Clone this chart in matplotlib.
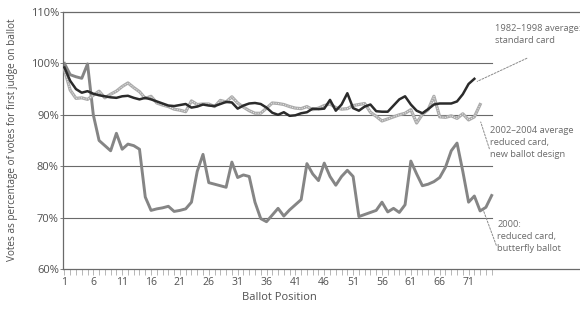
import matplotlib
matplotlib.use("Agg")
import matplotlib.pyplot as plt
import numpy as np

plt.rcParams['font.family'] = ['Open Sans', 'DejaVu Sans']

# Data (percent of votes for first judge on ballot), by ballot position
standard_1982_1998 = [99.2, 96.6, 95.0, 94.3, 94.6, 94.1, 93.8, 93.6, 93.4, 93.3,
                      93.6, 93.7, 93.3, 93.0, 93.3, 93.0, 92.6, 92.2, 91.8, 91.7,
                      91.9, 92.1, 91.4, 91.6, 92.0, 91.8, 91.7, 92.1, 92.5, 92.4,
                      91.2, 91.8, 92.2, 92.3, 92.1, 91.4, 90.4, 90.0, 90.5, 89.8,
                      89.9, 90.3, 90.5, 91.2, 91.1, 91.2, 92.9, 90.8, 92.0, 94.2,
                      91.3, 90.8, 91.6, 92.0, 90.7, 90.6, 90.6, 91.8, 93.0, 93.6,
                      92.0, 90.8, 90.3, 91.1, 92.0, 92.2, 92.2, 92.2, 92.6, 94.0,
                      96.0, 97.0]
newdesign_2002_2004 = [98.8, 94.8, 93.2, 93.3, 93.0, 93.8, 94.6, 93.3, 94.0, 94.6,
                       95.5, 96.2, 95.3, 94.5, 93.2, 93.6, 92.3, 91.9, 91.6, 91.1,
                       90.9, 90.6, 92.7, 92.0, 92.1, 92.1, 91.6, 92.8, 92.5, 93.5,
                       92.3, 91.5, 90.8, 90.3, 90.3, 91.3, 92.3, 92.2, 92.0, 91.6,
                       91.3, 91.2, 91.6, 91.0, 91.3, 91.8, 92.1, 91.4, 91.1, 91.2,
                       91.8, 92.0, 92.2, 90.5, 89.7, 88.8, 89.2, 89.6, 90.0, 90.3,
                       91.0, 88.4, 90.1, 91.0, 93.6, 89.6, 89.5, 89.8, 89.3, 90.2,
                       89.0, 89.6, 92.0]
butterfly_2000 = [100.0, 97.8, 97.4, 97.1, 99.9, 90.0, 85.0, 84.0, 83.0, 86.4,
                  83.3, 84.3, 84.0, 83.3, 74.0, 71.4, 71.7, 71.9, 72.2, 71.2,
                  71.4, 71.7, 73.0, 79.0, 82.3, 76.8, 76.5, 76.2, 75.9, 80.8,
                  77.8, 78.3, 78.0, 73.0, 69.8, 69.2, 70.5, 71.8, 70.3, 71.5,
                  72.5, 73.5, 80.5, 78.5, 77.2, 80.6, 78.0, 76.3, 78.0, 79.2,
                  78.0, 70.2, 70.6, 71.0, 71.4, 73.0, 71.1, 71.8, 71.0, 72.5,
                  81.0, 78.5, 76.2, 76.5, 77.0, 77.8, 79.8, 83.0, 84.5, 79.0,
                  73.0, 74.2, 71.3, 72.0, 74.3]

y_ticks = [60, 70, 80, 90, 100, 110]
y_tick_labels = ["60%", "70%", "80%", "90%", "100%", "110%"]
x_tick_labels = [1, 6, 11, 16, 21, 26, 31, 36, 41, 46, 51, 56, 61, 66, 71]

fig = plt.figure(figsize=(5.8, 3.09), dpi=100)
ax = fig.add_axes([63/580, 1 - 269/309, 1 - 63/580, (269 - 12)/309])

text_col = '#505050'
grid_col = '#6a6a6a'

ax.set_xlim(0.75, 90.3)
ax.set_ylim(60, 110)

# gridlines (only up to the end of the data area)
for v in [70, 80, 90, 100]:
    ax.axhline(v, xmin=0, xmax=(492 - 63) / (580 - 63), color=grid_col, lw=0.8, zorder=1)

x_b = np.arange(1, len(butterfly_2000) + 1)
x_n = np.arange(1, len(newdesign_2002_2004) + 1)
x_s = np.arange(1, len(standard_1982_1998) + 1)

ax.plot(x_b, butterfly_2000, color='#858585', lw=2.1, zorder=2, solid_joinstyle='round')
ax.plot(x_n, newdesign_2002_2004, color='#ababab', lw=2.3, zorder=3, solid_joinstyle='round')
ax.plot(x_n, newdesign_2002_2004, color='#eeeeee', lw=0.7, ls=(0, (1, 1.5)), zorder=3.1)
ax.plot(x_s, standard_1982_1998, color='#2b2b2b', lw=1.8, zorder=4, solid_joinstyle='round')

# axes styling
ax.spines['right'].set_visible(False)
for s in ['left', 'bottom', 'top']:
    ax.spines[s].set_color(grid_col)
    ax.spines[s].set_linewidth(0.9)

ax.set_yticks(y_ticks)
ax.set_yticklabels(y_tick_labels)
ax.tick_params(axis='y', length=2, width=0.6, colors=grid_col, labelcolor=text_col,
               labelsize=8, pad=1)

ax.set_xticks(x_tick_labels)
ax.set_xticklabels([str(v) for v in x_tick_labels])
ax.set_xticks(np.arange(1, 76), minor=True)
ax.tick_params(axis='x', which='both', direction='out', length=4, width=0.5,
               colors='#9a9a9a', labelcolor=text_col, labelsize=7.5, pad=2)

fig.text(279/580, 1 - 298/309, "Ballot Position", ha='center', va='center',
         fontsize=8, color=text_col)
fig.text(13/580, 1 - 140/309, "Votes as percentage of votes for first judge on ballot",
         rotation=90, ha='center', va='center', fontsize=7.2, color=text_col)

# annotations: text and dashed leader lines
ann_kw = dict(fontsize=6.7, color='#6a6a6a', linespacing=1.45, ha='left', va='center')
lead_kw = dict(arrowstyle='-', color='#8a8a8a', lw=0.7, ls=(0, (2, 1.5)),
               shrinkA=0, shrinkB=0)

ax.text(75.6, 105.7, "1982\u20131998 average:\nstandard card", **ann_kw)
ax.annotate("", xy=(72.5, 96.5), xytext=(81.1, 101.0), arrowprops=lead_kw)

ax.text(74.7, 84.6, "2002\u20132004 average\nreduced card,\nnew ballot design", **ann_kw)
ax.annotate("", xy=(73.1, 88.6), xytext=(74.6, 83.4), arrowprops=lead_kw)

ax.text(76.0, 66.3, "2000:\nreduced card,\nbutterfly ballot", **ann_kw)
ax.annotate("", xy=(73.5, 71.6), xytext=(75.8, 64.6), arrowprops=lead_kw)

fig.savefig("out.png", dpi=100)
